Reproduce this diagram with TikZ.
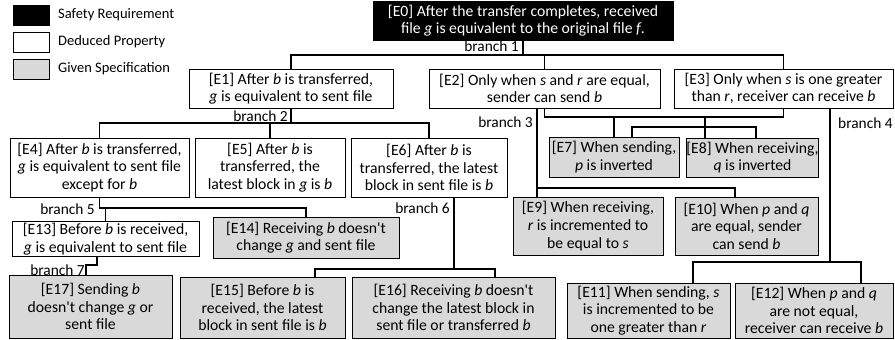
\documentclass[tikz,border=0pt]{standalone}
\usepackage{fontspec}
\setmainfont{Carlito}
\usepackage{tikz}
\usetikzlibrary{positioning,calc}
\definecolor{givengrey}{HTML}{D9D9D9}
\tikzset{every node/.append style={align=center}}
\tikzset{
  prop/.style={draw=black, line width=0.8pt, inner sep=0pt},
  safety/.style={prop, fill=black, text=white},
  deduced/.style={prop, fill=white},
  given/.style={prop, fill=givengrey},
  boxdim/.style 2 args={minimum width=#1, minimum height=#2},
  link/.style={line width=1.8pt},
  branchlbl/.style={inner sep=0pt, font=\fontsize{15.4}{17}\selectfont},
  keylbl/.style={inner sep=0pt, anchor=west, font=\fontsize{14.5}{17}\selectfont},
}

\begin{document}
\begin{tikzpicture}[x=1pt,y=-1pt, every node/.style={font=\fontsize{15.7}{17.6}\selectfont,align=center}]
  \useasboundingbox (0,0) rectangle (895,340);

  % key
  \foreach \n/\y/\s/\t in {1/15/safety/Safety Requirement,2/42/deduced/Deduced Property,3/69/given/Given Specification}{
    \node[\s, boxdim={36}{20}] (key\n) at (31,\y) {};
    \node[keylbl] (keytxt\n) at (58,\y) {\t};
  }

  % properties
  \node[safety, boxdim={300}{39}] (e0) at (523,20.5) {[E0] After the transfer completes, received\\file \textit{g} is equivalent to the original file \textit{f}.};
  \node[deduced, boxdim={204}{39}] (e1) at (291,88.5) {[E1] After \textit{b} is transferred,\\\textit{g} is equivalent to sent file};
  \node[deduced, boxdim={231}{39}] (e2) at (544.5,88.5) {[E2] Only when \textit{s} and \textit{r} are equal,\\sender can send \textit{b}};
  \node[deduced, boxdim={219}{39}] (e3) at (783.5,88.5) {[E3] Only when \textit{s} is one greater\\than \textit{r}, receiver can receive \textit{b}};
  \node[deduced, boxdim={179}{59}] (e4) at (99.5,167.5) {[E4] After \textit{b} is transferred,\\\textit{g} is equivalent to sent file\\except for \textit{b}};
  \node[deduced, boxdim={150}{59}] (e5) at (270,167.5) {[E5] After \textit{b} is\\transferred, the\\latest block in \textit{g} is \textit{b}};
  \node[deduced, boxdim={156}{59}] (e6) at (429,167.5) {[E6] After \textit{b} is\\transferred, the latest\\block in sent file is \textit{b}};
  \node[given, boxdim={130}{40}] (e7) at (614,157) {[E7] When sending,\\\textit{p} is inverted};
  \node[given, boxdim={131}{39}] (e8) at (752.5,157.5) {[E8] When receiving,\\\textit{q} is inverted};
  \node[given, boxdim={150}{58}] (e9) at (588,226) {[E9] When receiving,\\\textit{r} is incremented to\\be equal to \textit{s}};
  \node[given, boxdim={143}{58}] (e10) at (746.5,226) {[E10] When \textit{p} and \textit{q}\\are equal, sender\\can send \textit{b}};
  \node[given, boxdim={163}{55}] (e11) at (648.5,310.5) {[E11] When sending, \textit{s}\\is incremented to be\\one greater than \textit{r}};
  \node[given, boxdim={158}{55}] (e12) at (814,310.5) {[E12] When \textit{p} and \textit{q}\\are not equal,\\receiver can receive \textit{b}};
  \node[deduced, boxdim={187}{35}] (e13) at (105.5,239) {[E13] Before \textit{b} is received,\\\textit{g} is equivalent to sent file};
  \node[given, boxdim={186}{41}] (e14) at (306,237.5) {[E14] Receiving \textit{b} doesn\textquotesingle t\\change \textit{g} and sent file};
  \node[given, boxdim={165}{61}] (e15) at (262.5,307.5) {[E15] Before \textit{b} is\\received, the latest\\block in sent file is \textit{b}};
  \node[given, boxdim={203}{61}] (e16) at (453.5,307.5) {[E16] Receiving \textit{b} doesn\textquotesingle t\\change the latest block in\\sent file or transferred \textit{b}};
  \node[given, boxdim={163}{63}] (e17) at (90.5,306.5) {[E17] Sending \textit{b}\\doesn\textquotesingle t change \textit{g} or\\sent file};

  % branch rows
  \coordinate (b1) at (0,55);
  \coordinate (b2) at (0,123);
  \coordinate (b78) at (0,117);
  \coordinate (b78b) at (0,127);
  \coordinate (b3) at (0,188);
  \coordinate (b4) at (0,262);
  \coordinate (b5) at (0,208);
  \coordinate (b6) at (0,269);
  \coordinate (b7) at (0,265);

  % branch 1
  \draw[link] (e0.south) -- (e0.south |- b1);
  \draw[link] (e1.north) |- (e3.north |- b1) -- (e3.north);
  \draw[link] (e2.north) -- (e2.north |- b1);
  % branch 2
  \draw[link] (e1.south) -- (e1.south |- b2);
  \draw[link] (e4.north) |- (e6.north |- b2) -- (e6.north);
  \draw[link] (e5.north) -- (e5.north |- b2);
  % E2 and E3 down to E7, E8
  \draw[link] (e2.south) |- (e3.south |- b78) -- (e3.south);
  \draw[link] (e7.north) -- (e7.north |- b78);
  \draw[link] ([xshift=-47.5]e8.north) -- ([xshift=-47.5]e8.north |- b78);
  \draw[link] ([xshift=18]e7.north) |- ([xshift=3.5]e8.north |- b78b) -- ([xshift=3.5]e8.north);
  % branch 3
  \draw[link] ([xshift=-7.5]e2.south) -- ([xshift=-7.5]e2.south |- e9.north);
  \draw[link] ([xshift=-7.5]e2.south |- b3) -| ([xshift=-11.5]e10.north);
  % branch 4
  \draw[link] ([xshift=46.5]e3.south) -- ([xshift=46.5]e3.south |- b4);
  \draw[link] ([xshift=44.5]e11.north) |- ([xshift=47]e12.north |- b4) -- ([xshift=47]e12.north);
  % branch 5
  \draw[link] (e4.south) |- (e14.north |- b5) -- (e14.north);
  \draw[link] (e13.north) -- (e13.north |- b5);
  % branch 6
  \draw[link] ([xshift=25]e6.south) -- ([xshift=25]e6.south |- b6);
  \draw[link] ([xshift=52.5]e15.north) |- ([xshift=41.5]e16.north |- b6) -- ([xshift=41.5]e16.north);
  % branch 7
  \draw[link] ([xshift=-8.5]e13.south) |- ([xshift=-4.5]e17.north |- b7) -- ([xshift=-4.5]e17.north);

  % branch labels
  \node[branchlbl, anchor=east] (lbl1) at (519,46) {branch 1};
  \node[branchlbl, anchor=east] (lbl2) at (288,116) {branch 2};
  \node[branchlbl, anchor=east] (lbl3) at (533,122) {branch 3};
  \node[branchlbl, anchor=west] (lbl4) at (838,123) {branch 4};
  \node[branchlbl, anchor=east] (lbl5) at (95,209) {branch 5};
  \node[branchlbl, anchor=east] (lbl6) at (450,208) {branch 6};
  \node[branchlbl, anchor=east] (lbl7) at (85,270) {branch 7};
\end{tikzpicture}
\end{document}
